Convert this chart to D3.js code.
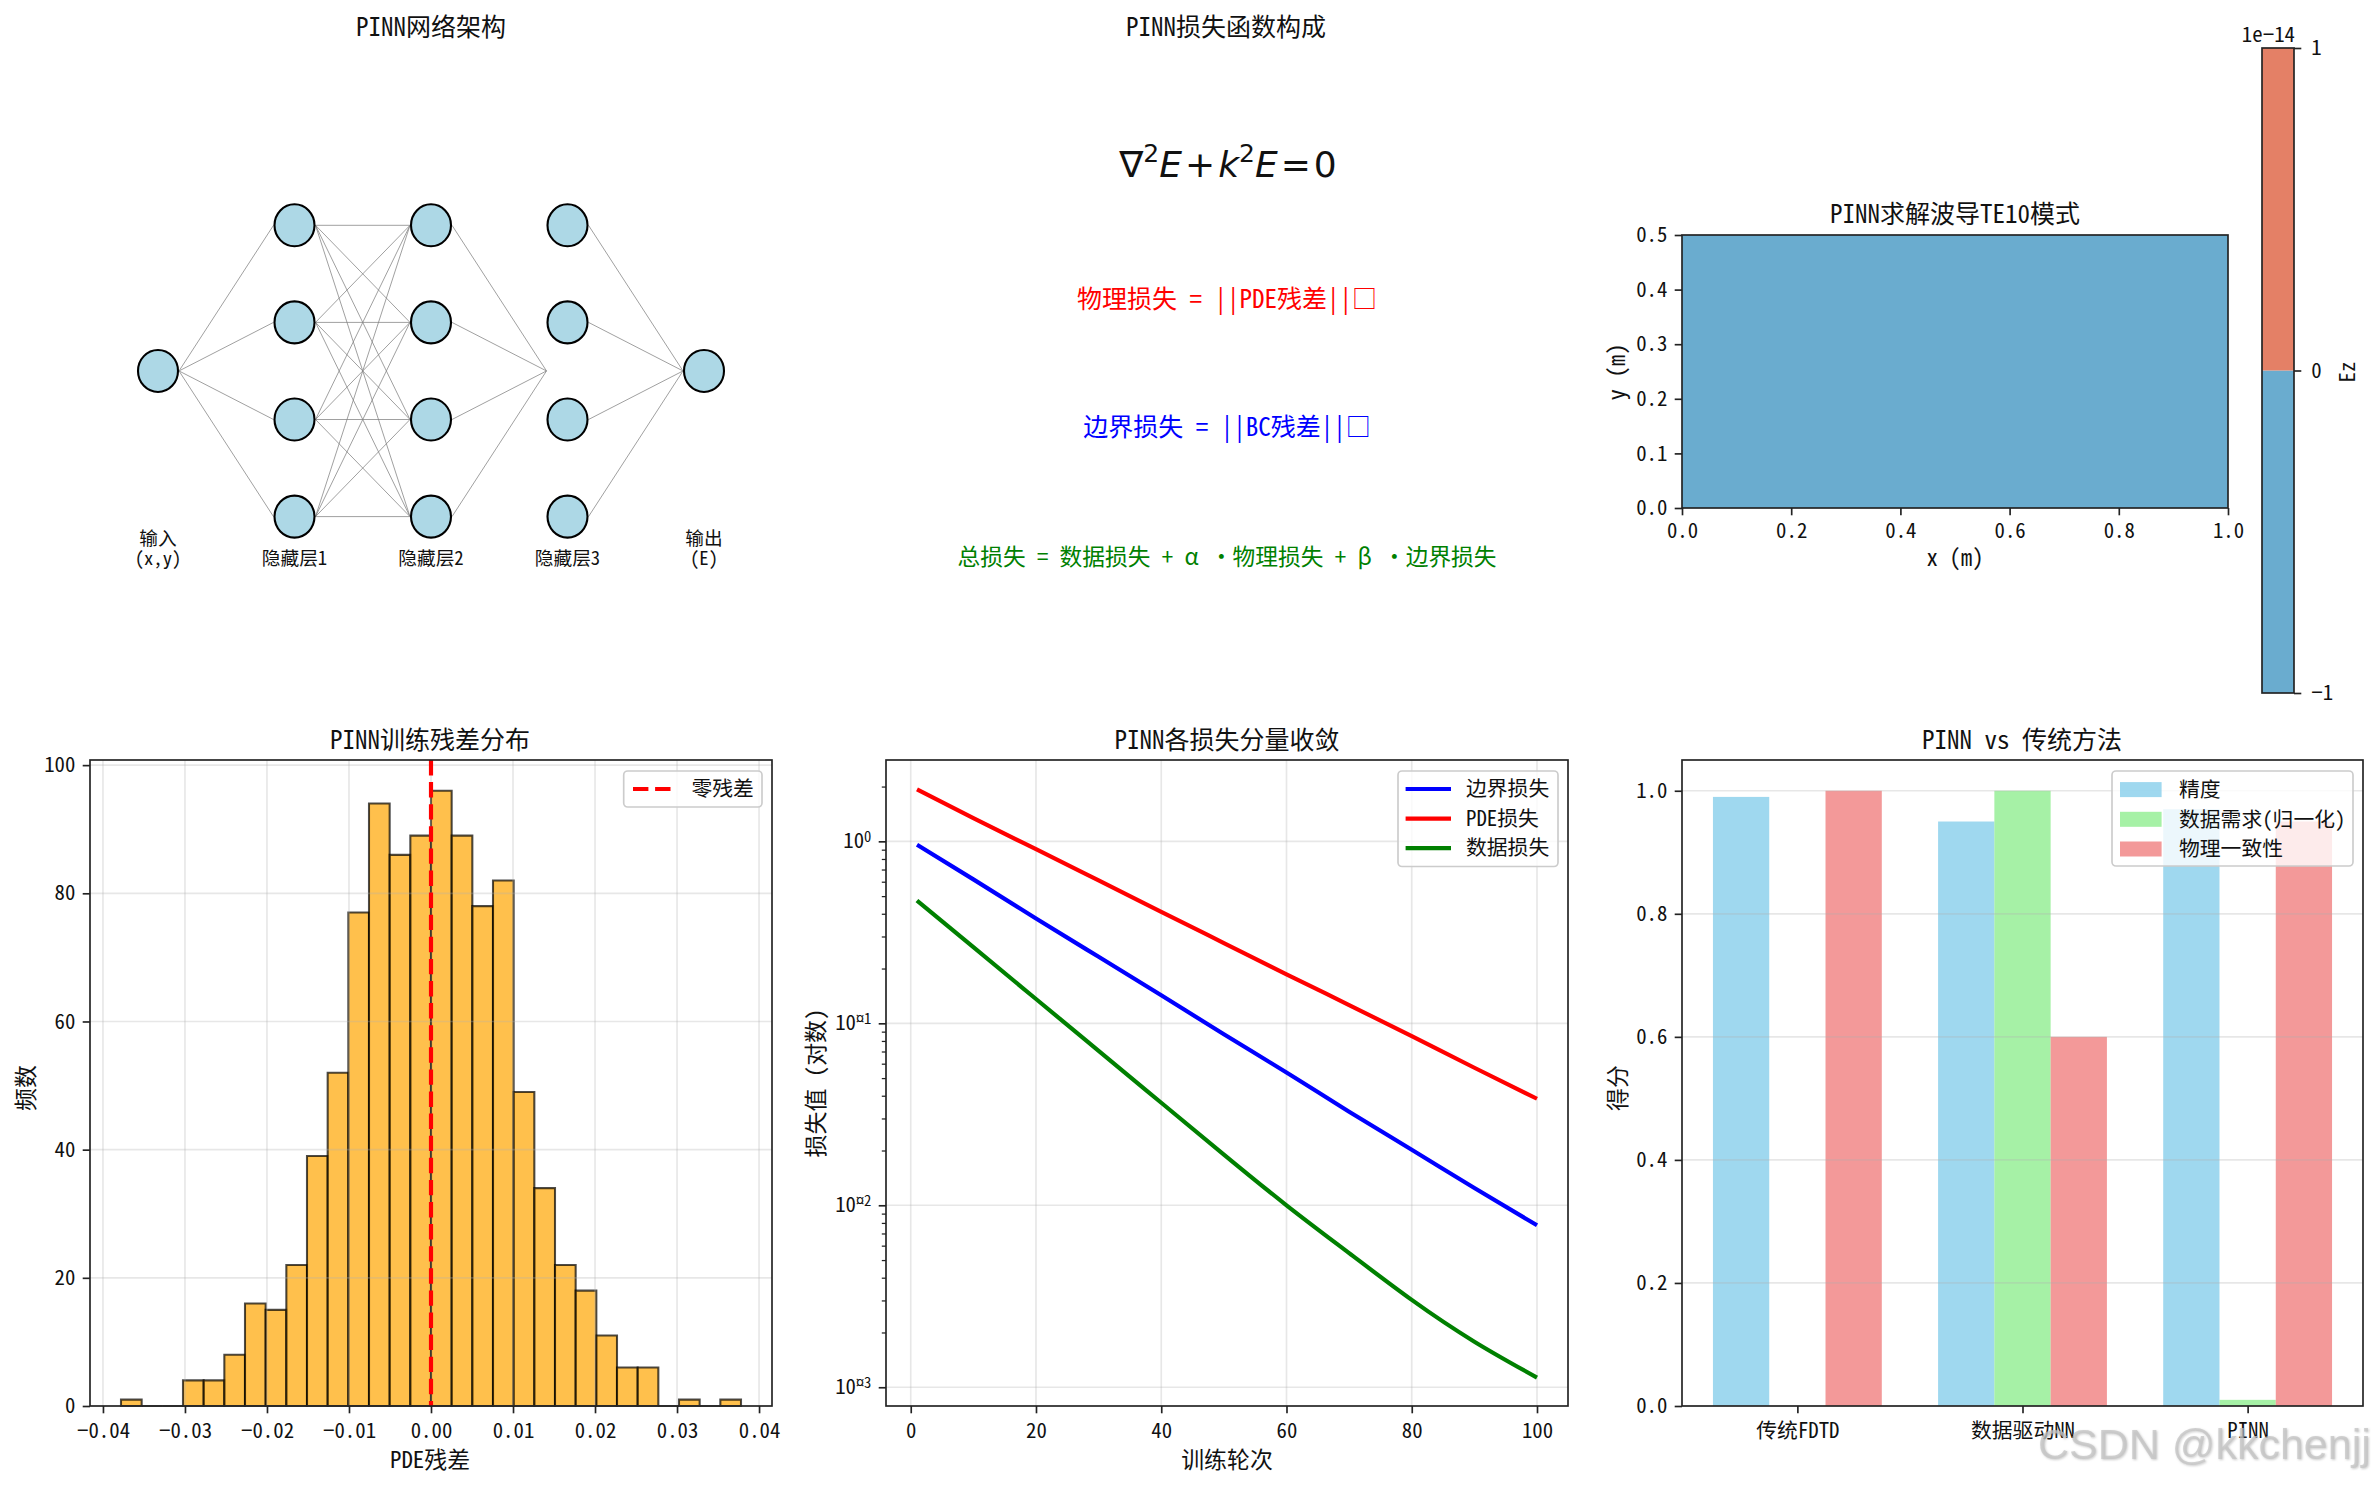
<!DOCTYPE html>
<html>
<head>
<meta charset="utf-8">
<script src="https://cdn.jsdelivr.net/npm/d3@7/dist/d3.min.js"></script>
<style>
  html, body { margin: 0; background: #fff; }
  svg { display: block; }
  text { font-family: "Noto Sans Mono CJK SC", "Noto Sans CJK SC", sans-serif; fill: #111; }
  .tick text { font-size: 20.8px; }
  .title { font-size: 25px; }
  .label { font-size: 22.9px; }
  .legend { font-size: 20.8px; }
  .net { font-size: 18.7px; }
</style>
</head>
<body>
<div id="chart"></div>
<script>
// === data ===
const layerSizes = [1, 4, 4, 4, 1];
const layerLabels = [["输入", "(x,y)"], ["隐藏层1"], ["隐藏层2"], ["隐藏层3"], ["输出", "(E)"]];

const lossLines = [
  { text: "物理损失 = ||PDE残差||□", color: "#ff0000", size: 25, y: 299 },
  { text: "边界损失 = ||BC残差||□", color: "#0000ff", size: 25, y: 427 },
  { text: "总损失 = 数据损失 + α ・物理损失 + β ・边界损失", color: "#008000", size: 22.7, y: 557 }
];

const fieldLevels = [-1, 0, 1];
const fieldColors = ["#6aaccf", "#e48066"];

const histCounts = [1, 0, 0, 4, 4, 8, 16, 15, 22, 39, 52, 77, 94, 86, 89, 96, 89, 78, 82, 49, 34, 22, 18, 11, 6, 6, 0, 1, 0, 1];
const histStart = -0.0378;
const histBinWidth = 0.00252;

const epochs = [1, 10, 20, 30, 40, 50, 60, 70, 80, 90, 100];
const boundaryLoss = [0.957, 0.618, 0.377, 0.232, 0.1426, 0.0871, 0.0537, 0.0327, 0.0202, 0.01245, 0.00776];
const pdeLoss = [1.93, 1.34, 0.905, 0.61, 0.41, 0.276, 0.186, 0.126, 0.085, 0.057, 0.0385];
const dataLoss = [0.473, 0.262, 0.136, 0.0706, 0.0366, 0.019, 0.01, 0.00546, 0.00302, 0.00178, 0.00113];

const methods = ["传统FDTD", "数据驱动NN", "PINN"];
const accuracy = [0.99, 0.95, 0.97];
const dataNeed = [0, 1.0, 0.01];
const physics = [1.0, 0.6, 0.95];

// === setup ===
const W = 2379, H = 1485;
const svg = d3.select("#chart").append("svg").attr("width", W).attr("height", H);
const ink = "#222";
const spineW = 1.67, gridCol = "#b0b0b0", gridOp = 0.3;

function spines(x0, x1, y0, y1) {
  svg.append("rect").attr("x", x0).attr("y", y0).attr("width", x1 - x0).attr("height", y1 - y0)
    .attr("fill", "none").attr("stroke", ink).attr("stroke-width", spineW);
}

function styleAxis(g) {
  g.select(".domain").remove();
  g.selectAll(".tick line").attr("stroke", ink).attr("stroke-width", spineW);
  g.selectAll(".tick text").attr("fill", "#111");
}

function bottomAxis(scale, ticks, fmt, y, pad = 10) {
  svg.append("g").attr("transform", `translate(0,${y})`)
    .call(d3.axisBottom(scale).tickValues(ticks).tickFormat(fmt).tickSize(7.3).tickPadding(pad))
    .call(styleAxis);
}

function leftAxis(scale, ticks, fmt, x) {
  svg.append("g").attr("transform", `translate(${x},0)`)
    .call(d3.axisLeft(scale).tickValues(ticks).tickFormat(fmt).tickSize(7.3).tickPadding(7.3))
    .call(styleAxis);
}

function title(text, x, y) {
  svg.append("text").attr("class", "title").attr("x", x).attr("y", y).attr("text-anchor", "middle").text(text);
}

function xLabel(text, x, y) {
  svg.append("text").attr("class", "label").attr("x", x).attr("y", y).attr("text-anchor", "middle").text(text);
}

function yLabel(text, x, y) {
  svg.append("text").attr("class", "label").attr("text-anchor", "middle")
    .attr("transform", `translate(${x},${y}) rotate(-90)`).text(text);
}

function legendFrame(x0, x1, y0, y1) {
  svg.append("rect").attr("x", x0).attr("y", y0).attr("width", x1 - x0).attr("height", y1 - y0)
    .attr("rx", 4).attr("fill", "#fff").attr("fill-opacity", 0.8)
    .attr("stroke", "#ccc").attr("stroke-width", 1.67);
}

function legendText(text, x, y) {
  svg.append("text").attr("class", "legend").attr("x", x).attr("y", y).attr("dy", "0.35em").text(text);
}

// === 1. Network diagram ===
const netX = d3.scaleLinear().domain([0, 4]).range([158, 704]);
const netY = d3.scaleLinear().domain([-1.5, 1.5]).range([516.6, 225.3]);
const nodeRx = 20, nodeRy = 21;

const layers = layerSizes.map((n, i) => d3.range(n).map(j => ({
  x: netX(i),
  y: n === 1 ? netY(0) : netY(1.5 - j)
})));

const edges = [];
layers.forEach((layer, i) => {
  if (i === layers.length - 1) return;
  layer.forEach(a => {
    // layer 3 only takes one line per node, all of them end on its centre
    const targets = i === 2 ? [{ x: netX(3), y: netY(0) }] : layers[i + 1];
    targets.forEach(b => edges.push({ x1: a.x + nodeRx + 1, y1: a.y, x2: b.x - nodeRx - 1, y2: b.y }));
  });
});

svg.append("g").selectAll("line").data(edges).join("line")
  .attr("x1", d => d.x1).attr("y1", d => d.y1)
  .attr("x2", d => d.x2).attr("y2", d => d.y2)
  .attr("stroke", "#808080").attr("stroke-opacity", 0.75).attr("stroke-width", 1);

svg.append("g").selectAll("ellipse").data(layers.flat()).join("ellipse")
  .attr("cx", d => d.x).attr("cy", d => d.y).attr("rx", nodeRx).attr("ry", nodeRy)
  .attr("fill", "#add8e6").attr("stroke", "#000").attr("stroke-width", 2.1);

layerLabels.forEach((lines, i) => {
  const t = svg.append("text").attr("class", "net").attr("text-anchor", "middle");
  lines.forEach((s, k) => {
    const y = lines.length === 2 ? 545 + k * 20 : 565;
    t.append("tspan").attr("x", netX(i)).attr("y", y).text(s);
  });
});

title("PINN网络架构", 431, 36);

// === 2. Loss text ===
title("PINN损失函数构成", 1226, 36);

const eq = svg.append("text").attr("x", 1228).attr("y", 177).attr("text-anchor", "middle")
  .style("font-family", "'DejaVu Sans'").style("font-size", "36px");
eq.append("tspan").text("∇");
eq.append("tspan").attr("dy", -15).style("font-size", "25px").text("2");
eq.append("tspan").attr("dy", 15).style("font-style", "italic").text("E");
eq.append("tspan").attr("dx", 3).text("+");
eq.append("tspan").attr("dx", 3).style("font-style", "italic").text("k");
eq.append("tspan").attr("dy", -15).style("font-size", "25px").text("2");
eq.append("tspan").attr("dy", 15).style("font-style", "italic").text("E");
eq.append("tspan").attr("dx", 3).text("=");
eq.append("tspan").attr("dx", 3).text("0");

lossLines.forEach(d => {
  svg.append("text").attr("x", 1227).attr("y", d.y).attr("dy", "0.35em").attr("text-anchor", "middle")
    .style("font-size", d.size + "px").style("fill", d.color).text(d.text);
});

// === 3. Waveguide field with colorbar ===
const fx = d3.scaleLinear().domain([0, 1]).range([1682, 2228]);
const fy = d3.scaleLinear().domain([0, 0.5]).range([508, 235]);
const cb = d3.scaleLinear().domain([-1, 1]).range([693, 48]);

svg.append("rect").attr("x", fx(0)).attr("y", fy(0.5)).attr("width", fx(1) - fx(0)).attr("height", fy(0) - fy(0.5))
  .attr("fill", fieldColors[0]);
spines(fx(0), fx(1), fy(0.5), fy(0));
bottomAxis(fx, [0, 0.2, 0.4, 0.6, 0.8, 1], d3.format(".1f"), fy(0), 7.5);
leftAxis(fy, [0, 0.1, 0.2, 0.3, 0.4, 0.5], d3.format(".1f"), fx(0));
title("PINN求解波导TE10模式", 1955, 223);
xLabel("x (m)", 1955, 566);
yLabel("y (m)", 1625, 372);

svg.append("g").selectAll("rect").data(fieldColors).join("rect")
  .attr("x", 2262).attr("width", 32)
  .attr("y", (d, i) => cb(fieldLevels[i + 1]))
  .attr("height", (d, i) => cb(fieldLevels[i]) - cb(fieldLevels[i + 1]))
  .attr("fill", d => d);
spines(2262, 2294, 48, 693);
svg.append("g").attr("transform", "translate(2294,0)")
  .call(d3.axisRight(cb).tickValues(fieldLevels).tickFormat(d3.format("d")).tickSize(7.3).tickPadding(10))
  .call(styleAxis);
svg.append("text").attr("class", "legend").attr("x", 2295).attr("y", 42).attr("text-anchor", "end").text("1e−14");
svg.append("text").attr("class", "legend").attr("text-anchor", "middle")
  .attr("transform", "translate(2355,372) rotate(-90)").text("Ez");

// === 4. Residual histogram ===
const hx = d3.scaleLinear().domain([-0.04158, 0.04158]).range([90, 772]);
const hy = d3.scaleLinear().domain([0, 100.8]).range([1406, 760]);

svg.append("g").selectAll("path").data(histCounts).join("path")
  .attr("d", (d, i) => {
    const x0 = hx(histStart + i * histBinWidth), x1 = hx(histStart + (i + 1) * histBinWidth);
    return `M${x0},${hy(0)}V${hy(d)}H${x1}V${hy(0)}Z`;
  })
  .attr("fill", "#ffa500").attr("fill-opacity", 0.7)
  .attr("stroke", "#000").attr("stroke-opacity", 0.7).attr("stroke-width", 2.08);

const histXTicks = [-0.04, -0.03, -0.02, -0.01, 0, 0.01, 0.02, 0.03, 0.04];
const histYTicks = [0, 20, 40, 60, 80, 100];
svg.append("g").selectAll("line").data(histXTicks).join("line")
  .attr("x1", d => hx(d)).attr("x2", d => hx(d)).attr("y1", 760).attr("y2", 1406)
  .attr("stroke", gridCol).attr("stroke-opacity", gridOp).attr("stroke-width", spineW);
svg.append("g").selectAll("line").data(histYTicks).join("line")
  .attr("y1", d => hy(d)).attr("y2", d => hy(d)).attr("x1", 90).attr("x2", 772)
  .attr("stroke", gridCol).attr("stroke-opacity", gridOp).attr("stroke-width", spineW);

svg.append("line").attr("x1", hx(0)).attr("x2", hx(0)).attr("y1", 760).attr("y2", 1406)
  .attr("stroke", "#ff0000").attr("stroke-width", 4.17).attr("stroke-dasharray", "15.4,6.7");

spines(90, 772, 760, 1406);
bottomAxis(hx, histXTicks, d3.format(".2f"), 1406);
leftAxis(hy, histYTicks, d3.format("d"), 90);
title("PINN训练残差分布", 430, 749);
xLabel("PDE残差", 430, 1468);
yLabel("频数", 34, 1088);

legendFrame(623.7, 762, 771, 807);
svg.append("line").attr("x1", 633).attr("x2", 671).attr("y1", 789).attr("y2", 789)
  .attr("stroke", "#ff0000").attr("stroke-width", 4.17).attr("stroke-dasharray", "15.4,6.7");
legendText("零残差", 691.5, 789);

// === 5. Loss convergence ===
const lx = d3.scaleLinear().domain([-3.95, 104.95]).range([886, 1568]);
const ly = d3.scaleLog().domain([Math.pow(10, -3.103), Math.pow(10, 0.447)]).range([1406, 760]);

const logTicks = [1, 0.1, 0.01, 0.001];
const logMinor = [];
[0.001, 0.01, 0.1, 1].forEach(dec => d3.range(2, 10).forEach(m => {
  if (dec * m < ly.domain()[1]) logMinor.push(dec * m);
}));
const lineXTicks = [0, 20, 40, 60, 80, 100];

svg.append("g").selectAll("line").data(lineXTicks).join("line")
  .attr("x1", d => lx(d)).attr("x2", d => lx(d)).attr("y1", 760).attr("y2", 1406)
  .attr("stroke", gridCol).attr("stroke-opacity", gridOp).attr("stroke-width", spineW);
svg.append("g").selectAll("line").data(logTicks).join("line")
  .attr("y1", d => ly(d)).attr("y2", d => ly(d)).attr("x1", 886).attr("x2", 1568)
  .attr("stroke", gridCol).attr("stroke-opacity", gridOp).attr("stroke-width", spineW);

const series = [
  { name: "边界损失", values: boundaryLoss, color: "#0000ff" },
  { name: "PDE损失", values: pdeLoss, color: "#ff0000" },
  { name: "数据损失", values: dataLoss, color: "#008000" }
];
const lossLine = d3.line().x((d, i) => lx(epochs[i])).y(d => ly(d)).curve(d3.curveNatural);
svg.append("g").selectAll("path").data(series).join("path")
  .attr("d", d => lossLine(d.values)).attr("fill", "none")
  .attr("stroke", d => d.color).attr("stroke-width", 4.17);

spines(886, 1568, 760, 1406);
bottomAxis(lx, lineXTicks, d3.format("d"), 1406);

svg.append("g").attr("transform", "translate(886,0)")
  .call(d3.axisLeft(ly).tickValues(logMinor).tickFormat("").tickSize(4.2))
  .call(styleAxis).selectAll(".tick line").attr("stroke-width", 1.25);

const logAxis = svg.append("g").attr("transform", "translate(886,0)")
  .call(d3.axisLeft(ly).tickValues(logTicks).tickFormat("").tickSize(7.3).tickPadding(7.3))
  .call(styleAxis);
logAxis.selectAll(".tick text").each(function (d) {
  const exp = Math.round(Math.log10(d));
  const t = d3.select(this);
  t.append("tspan").text("10");
  // the minus sign is a missing glyph in the original superscript
  t.append("tspan").attr("dy", "-0.42em").style("font-size", "14.6px").text(exp === 0 ? "0" : "¤" + (-exp));
});

title("PINN各损失分量收敛", 1227, 749);
xLabel("训练轮次", 1227, 1468);
yLabel("损失值 (对数)", 824, 1083);

legendFrame(1398, 1558, 771, 866.5);
series.forEach((d, i) => {
  const y = 789 + i * 29.6;
  svg.append("line").attr("x1", 1405.6).attr("x2", 1451).attr("y1", y).attr("y2", y)
    .attr("stroke", d.color).attr("stroke-width", 4.17);
  legendText(d.name, 1466, y);
});

// === 6. Method comparison ===
const bx = d3.scaleLinear().domain([-0.5125, 2.5125]).range([1682, 2363]);
const by = d3.scaleLinear().domain([0, 1.05]).range([1406, 760]);
const barW = 0.25;
const barSeries = [
  { name: "精度", values: accuracy, color: "#87ceeb", offset: -1 },
  { name: "数据需求(归一化)", values: dataNeed, color: "#90ee90", offset: 0 },
  { name: "物理一致性", values: physics, color: "#f08080", offset: 1 }
];

barSeries.forEach(s => {
  svg.append("g").selectAll("rect").data(s.values).join("rect")
    .attr("x", (d, i) => bx(i + s.offset * barW - barW / 2))
    .attr("width", bx(barW) - bx(0))
    .attr("y", d => by(d))
    .attr("height", d => by(0) - by(d))
    .attr("fill", s.color).attr("fill-opacity", 0.8);
});

const barYTicks = [0, 0.2, 0.4, 0.6, 0.8, 1];
svg.append("g").selectAll("line").data(barYTicks).join("line")
  .attr("y1", d => by(d)).attr("y2", d => by(d)).attr("x1", 1682).attr("x2", 2363)
  .attr("stroke", gridCol).attr("stroke-opacity", gridOp).attr("stroke-width", spineW);

spines(1682, 2363, 760, 1406);
bottomAxis(bx, [0, 1, 2], i => methods[i], 1406);
leftAxis(by, barYTicks, d3.format(".1f"), 1682);
title("PINN vs 传统方法", 2022, 749);
yLabel("得分", 1626, 1088);

legendFrame(2112, 2353, 771, 866);
barSeries.forEach((s, i) => {
  const y = 789.6 + i * 29.7;
  svg.append("rect").attr("x", 2120).attr("y", y - 7.5).attr("width", 41.6).attr("height", 15)
    .attr("fill", s.color).attr("fill-opacity", 0.8);
  legendText(s.name, 2179, y);
});

// === site watermark ===
svg.append("text").attr("x", 2038).attr("y", 1459)
  .style("font-family", "'Liberation Sans'").style("font-size", "43px")
  .style("fill", "#c4c4c4").style("fill-opacity", 0.75)
  .style("filter", "drop-shadow(1px 1px 1px rgba(120,120,120,0.5))")
  .text("CSDN @kkchenjj");
</script>
</body>
</html>
